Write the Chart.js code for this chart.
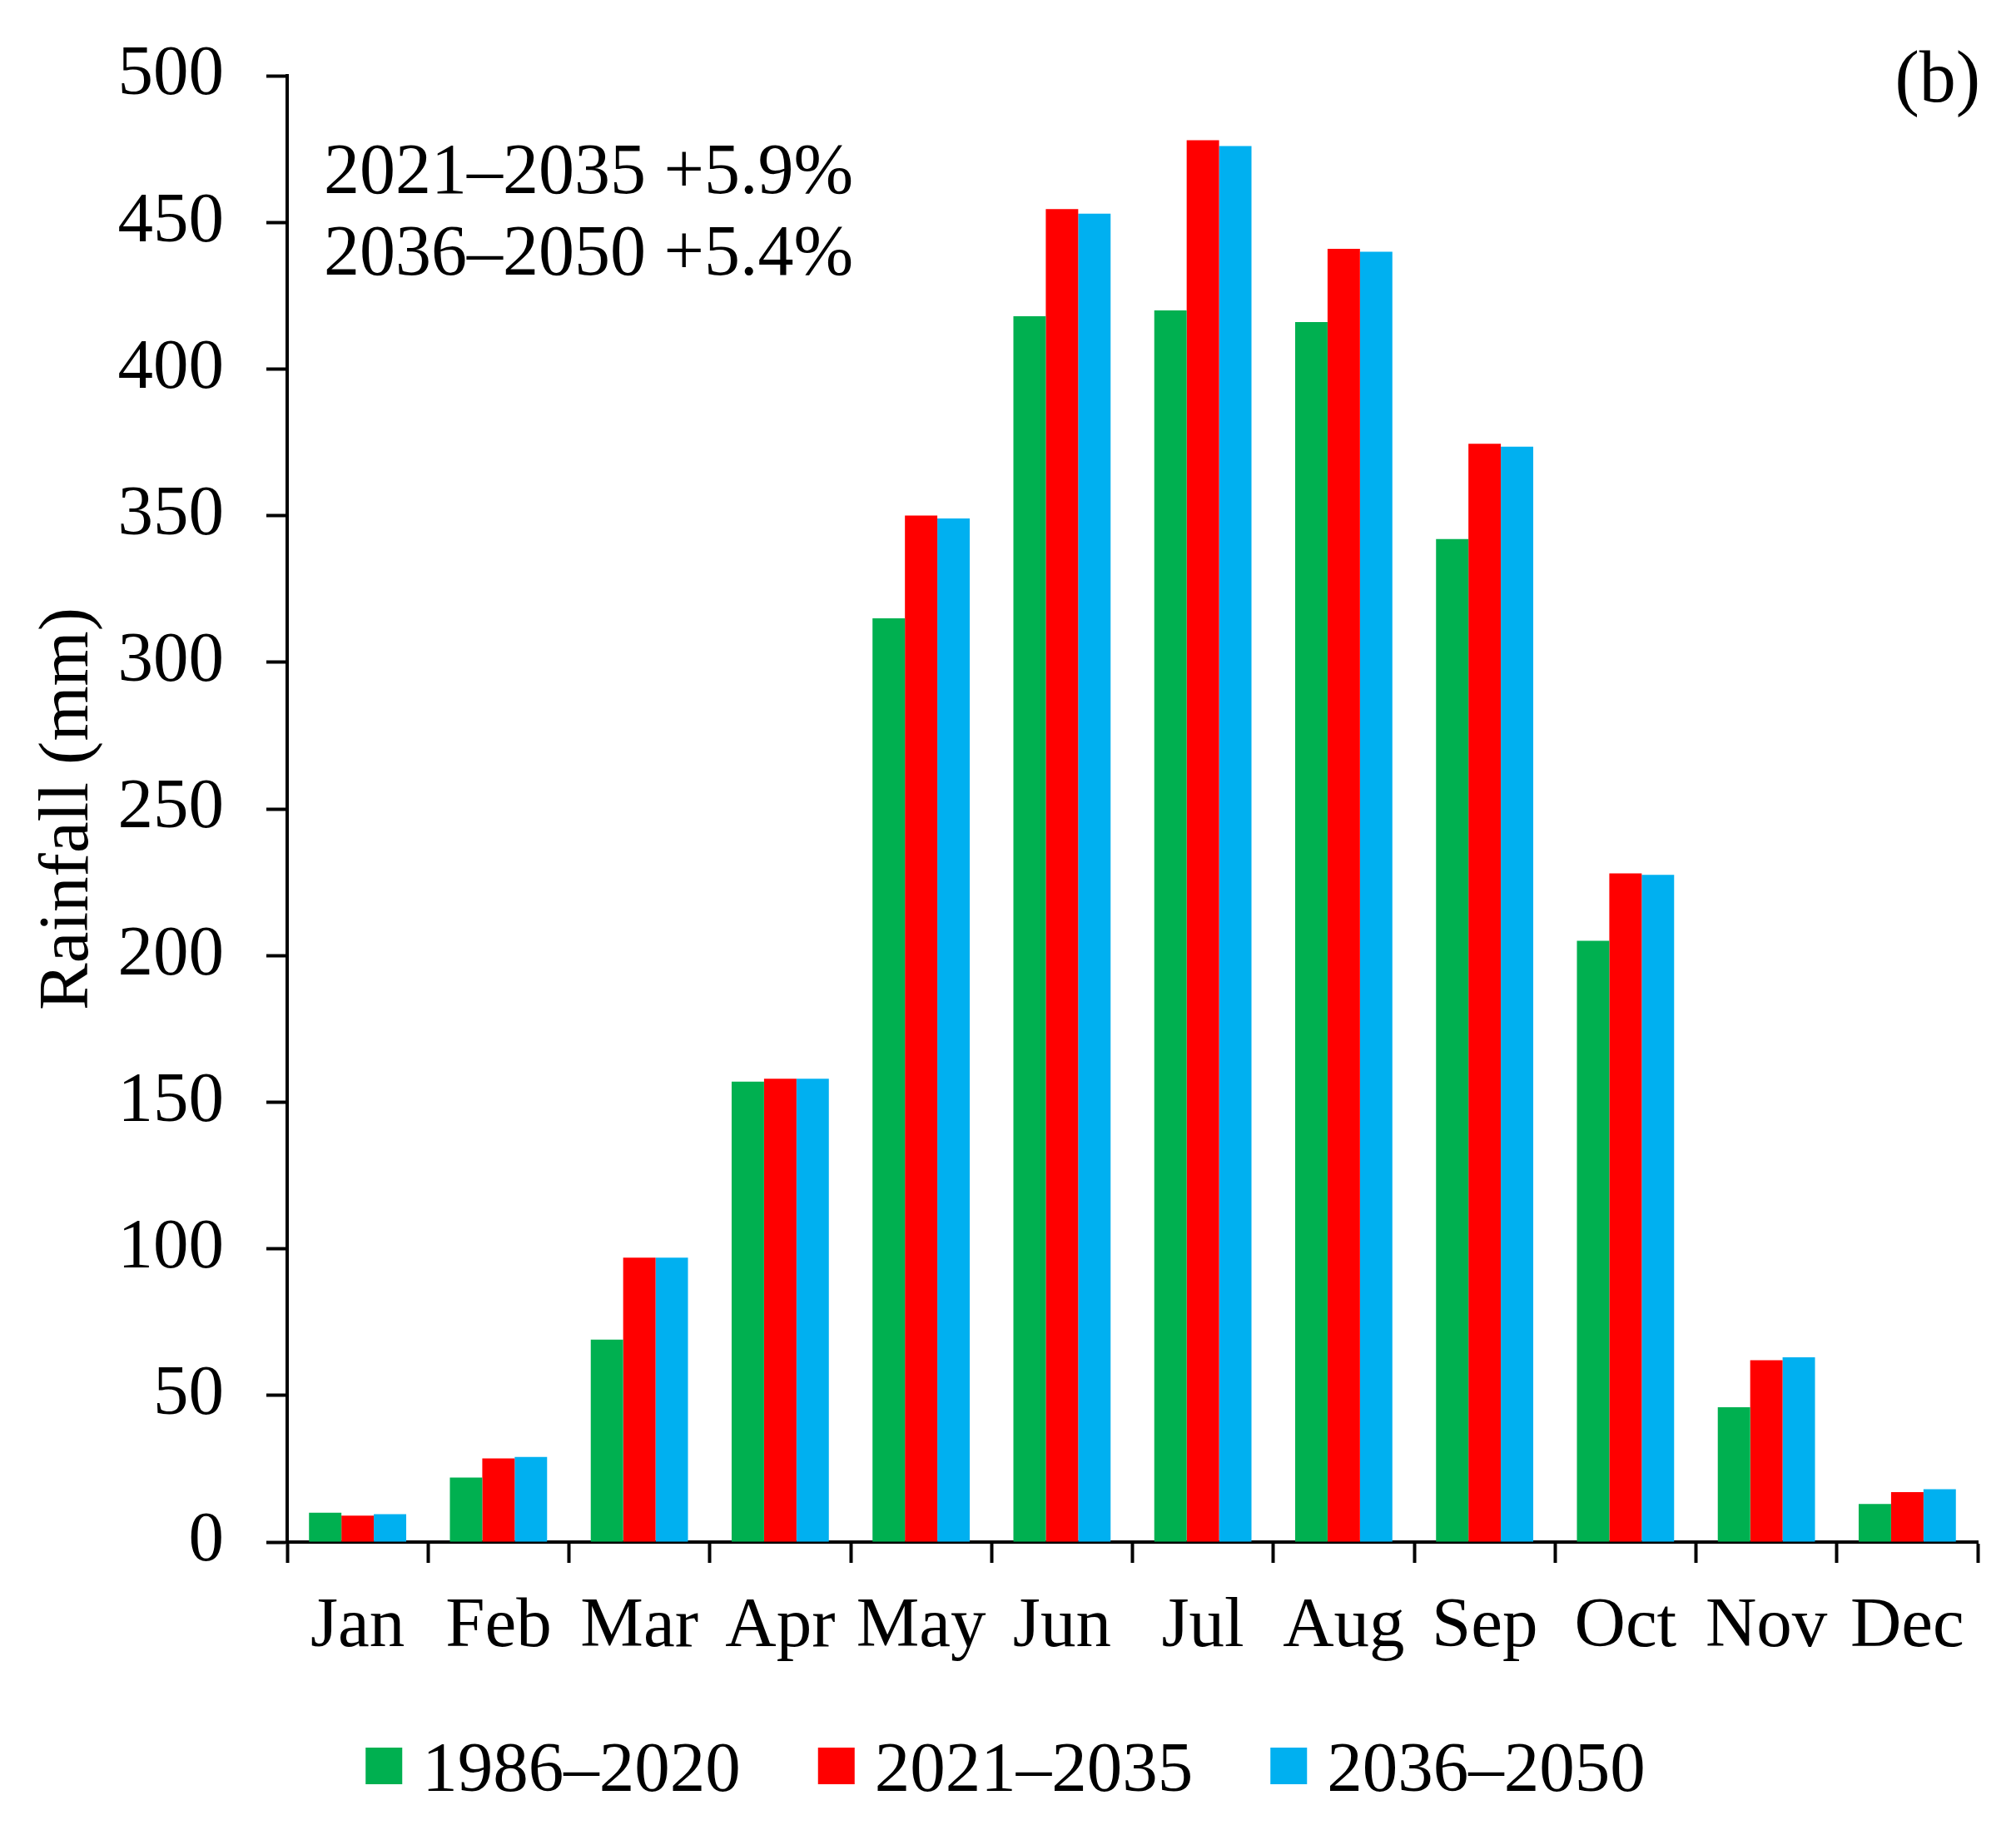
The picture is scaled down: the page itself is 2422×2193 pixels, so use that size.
<!DOCTYPE html>
<html>
<head>
<meta charset="utf-8">
<script src="https://cdn.jsdelivr.net/npm/chart.js@4.4.0/dist/chart.umd.min.js"></script>
<style>
  html, body { margin: 0; padding: 0; background: #ffffff; }
  #chart { display: block; }
</style>
</head>
<body>
<canvas id="chart" width="2422" height="2193" style="width:2422px;height:2193px"></canvas>
<script>
// Monthly rainfall
const months = ['Jan', 'Feb', 'Mar', 'Apr', 'May', 'Jun', 'Jul', 'Aug', 'Sep', 'Oct', 'Nov', 'Dec'];
const rain1986_2020 = [10, 22, 69, 157, 315, 418, 420, 416, 342, 205, 46, 13];
const rain2021_2035 = [9, 28.5, 97, 158, 350, 454.5, 478, 441, 374.5, 228, 62, 17];
const rain2036_2050 = [9.5, 29, 97, 158, 349, 453, 476, 440, 373.5, 227.5, 63, 18];
const seriesLabels = ['1986\u20132020', '2021\u20132035', '2036\u20132050'];
const seriesColors = ['#00B050', '#FF0000', '#00B0F0'];
const yTicks = [0, 50, 100, 150, 200, 250, 300, 350, 400, 450, 500];
const noteLines = ['2021\u20132035 +5.9%', '2036\u20132050 +5.4%'];
const panelLabel = '(b)';

const FONT = '"Liberation Serif", "Times New Roman", serif';

// notes on the plot + legend row under the axis
const notesPlugin = {
    id: 'notes',
    afterDraw(chart) {
        const ctx = chart.ctx;
        const area = chart.chartArea;
        ctx.save();
        ctx.fillStyle = '#000000';
        ctx.textBaseline = 'alphabetic';
        ctx.font = '86px ' + FONT;
        ctx.textAlign = 'left';
        ctx.fillText(noteLines[0], area.left + 44, area.top + 141);
        ctx.fillText(noteLines[1], area.left + 44, area.top + 239);
        ctx.font = '88px ' + FONT;
        ctx.textAlign = 'right';
        ctx.fillText(panelLabel, area.right + 3, area.top + 31);

        // legend
        ctx.font = '85px ' + FONT;
        const box = 44, gap = 24, between = 93;
        const items = chart.data.datasets.map(ds => ({ text: ds.label, color: ds.backgroundColor, w: ctx.measureText(ds.label).width }));
        let total = 0;
        items.forEach((it, i) => { total += box + gap + it.w + (i ? between : 0); });
        let x = chart.width / 2 - total / 2 - 3;
        const boxTop = 2100;
        ctx.textAlign = 'left';
        items.forEach(it => {
            ctx.fillStyle = it.color;
            ctx.fillRect(x, boxTop, box, box);
            ctx.fillStyle = '#000000';
            ctx.fillText(it.text, x + box + gap, 2152);
            x += box + gap + it.w + between;
        });
        ctx.restore();
    }
};

new Chart(document.getElementById('chart'), {
    type: 'bar',
    data: {
        labels: months,
        datasets: [
            { label: seriesLabels[0], data: rain1986_2020, backgroundColor: seriesColors[0] },
            { label: seriesLabels[1], data: rain2021_2035, backgroundColor: seriesColors[1] },
            { label: seriesLabels[2], data: rain2036_2050, backgroundColor: seriesColors[2] }
        ]
    },
    options: {
        responsive: false,
        devicePixelRatio: 1,
        animation: false,
        datasets: {
            bar: { categoryPercentage: 0.69, barPercentage: 1.0, borderWidth: 0 }
        },
        layout: {
            padding: { top: 91, right: 46, left: 0, bottom: 189 }
        },
        plugins: {
            tooltip: { enabled: false },
            legend: { display: false }
        },
        scales: {
            x: {
                offset: true,
                grid: {
                    display: true,
                    offset: true,
                    drawOnChartArea: false,
                    drawTicks: true,
                    tickLength: 25,
                    tickWidth: 4,
                    tickColor: '#000000'
                },
                border: { display: true, color: '#000000', width: 4 },
                ticks: {
                    color: '#000000',
                    padding: 27,
                    maxRotation: 0,
                    font: { family: FONT, size: 85 }
                },
                afterFit(scale) { scale.height = 151; }
            },
            y: {
                min: 0,
                max: 500,
                afterBuildTicks(scale) { scale.ticks = yTicks.map(v => ({ value: v })); },
                grid: {
                    display: true,
                    drawOnChartArea: false,
                    drawTicks: true,
                    tickLength: 25,
                    tickWidth: 4,
                    tickColor: '#000000'
                },
                border: { display: true, color: '#000000', width: 4 },
                ticks: {
                    color: '#000000',
                    padding: 51,
                    font: { family: FONT, size: 85, lineHeight: 0.9 }
                },
                title: {
                    display: true,
                    text: 'Rainfall (mm)',
                    color: '#000000',
                    padding: { top: 32, bottom: 0 },
                    font: { family: FONT, size: 85 }
                },
                afterFit(scale) { scale.width = 345; }
            }
        }
    },
    plugins: [notesPlugin]
});
</script>
</body>
</html>
